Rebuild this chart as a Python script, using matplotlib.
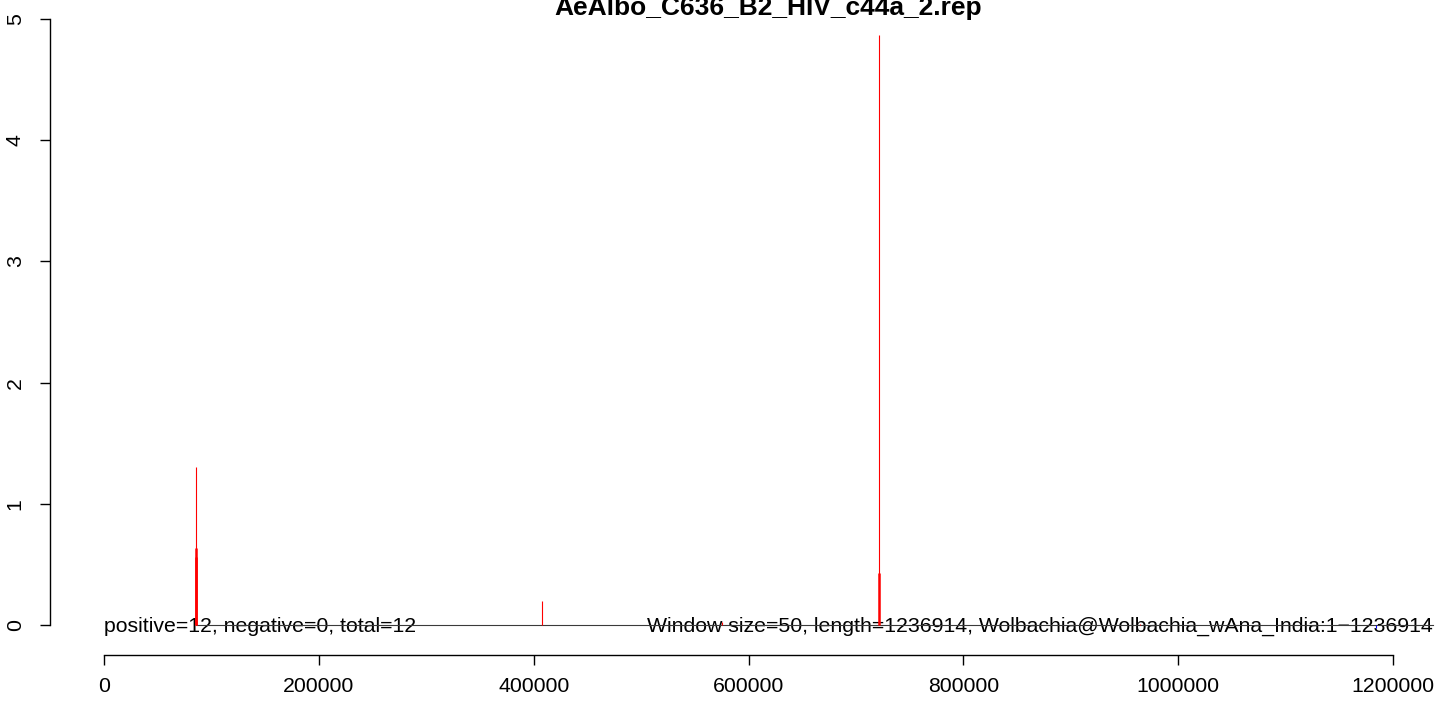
import matplotlib
matplotlib.use("Agg")
import matplotlib.pyplot as plt

plt.rcParams['font.family'] = ['Liberation Sans', 'DejaVu Sans']

title = "AeAlbo_C636_B2_HIV_c44a_2.rep"
left_note = "positive=12, negative=0, total=12"
right_note = "Window size=50, length=1236914, Wolbachia@Wolbachia_wAna_India:1\u22121236914"
genome_length = 1236914

# positive strand coverage, single windows (thin lines)
thin_x = [85650, 407750, 575300, 721500, 964400]
thin_y = [1.30, 0.20, 0.025, 4.87, 0.012]
# positive strand coverage, clustered windows (drawn thicker)
thick_x = [85300, 86100, 721300]
thick_y = [0.56, 0.635, 0.43]
# negative strand
neg_x = [1184100]
neg_y = [-0.025]

x_ticks = [0, 200000, 400000, 600000, 800000, 1000000, 1200000]
y_ticks = [0, 1, 2, 3, 4, 5]

fig = plt.figure(figsize=(14.39, 7.07), dpi=100)
ax = fig.add_axes([50 / 1439, 52 / 707, 1389 / 1439, 655 / 707])

ax.plot([thick_x[0], genome_length], [0, 0], color='#3a3a3a', lw=0.8, zorder=1)
ax.vlines(thin_x, 0, thin_y, color='red', lw=0.8, zorder=2)
ax.vlines(thick_x, 0, thick_y, color='red', lw=1.8, zorder=2)
ax.vlines(neg_x, 0, neg_y, color='blue', lw=0.8, zorder=2)

ax.set_xlim(-50271, 1242800)
ax.set_ylim(-0.2475, 5.1568)

for s in ['top', 'right']:
    ax.spines[s].set_visible(False)
ax.spines['left'].set_bounds(0, 5)
ax.spines['bottom'].set_bounds(0, 1200000)
for s in ['left', 'bottom']:
    ax.spines[s].set_linewidth(1.0)

ax.set_xticks(x_ticks)
ax.set_xticklabels([str(t) for t in x_ticks])
ax.set_yticks(y_ticks)
ax.set_yticklabels([str(t) for t in y_ticks], rotation=90, va='center')
ax.tick_params(axis='both', direction='out', length=7.2, width=1.0, labelsize=15.3)
ax.tick_params(axis='x', pad=9)
ax.tick_params(axis='y', pad=11)

ax.text(0, -0.058, left_note, ha='left', va='baseline', fontsize=15.3, zorder=0)
ax.text(genome_length, -0.058, right_note, ha='right', va='baseline', fontsize=15.3, zorder=0)

# title centred over the (wider, cropped) R plot region
fig.text(768 / 1439, 1 - 15 / 707, title, ha='center', va='baseline',
         fontsize=19, fontweight='bold')

fig.savefig("out.png", dpi=100)
